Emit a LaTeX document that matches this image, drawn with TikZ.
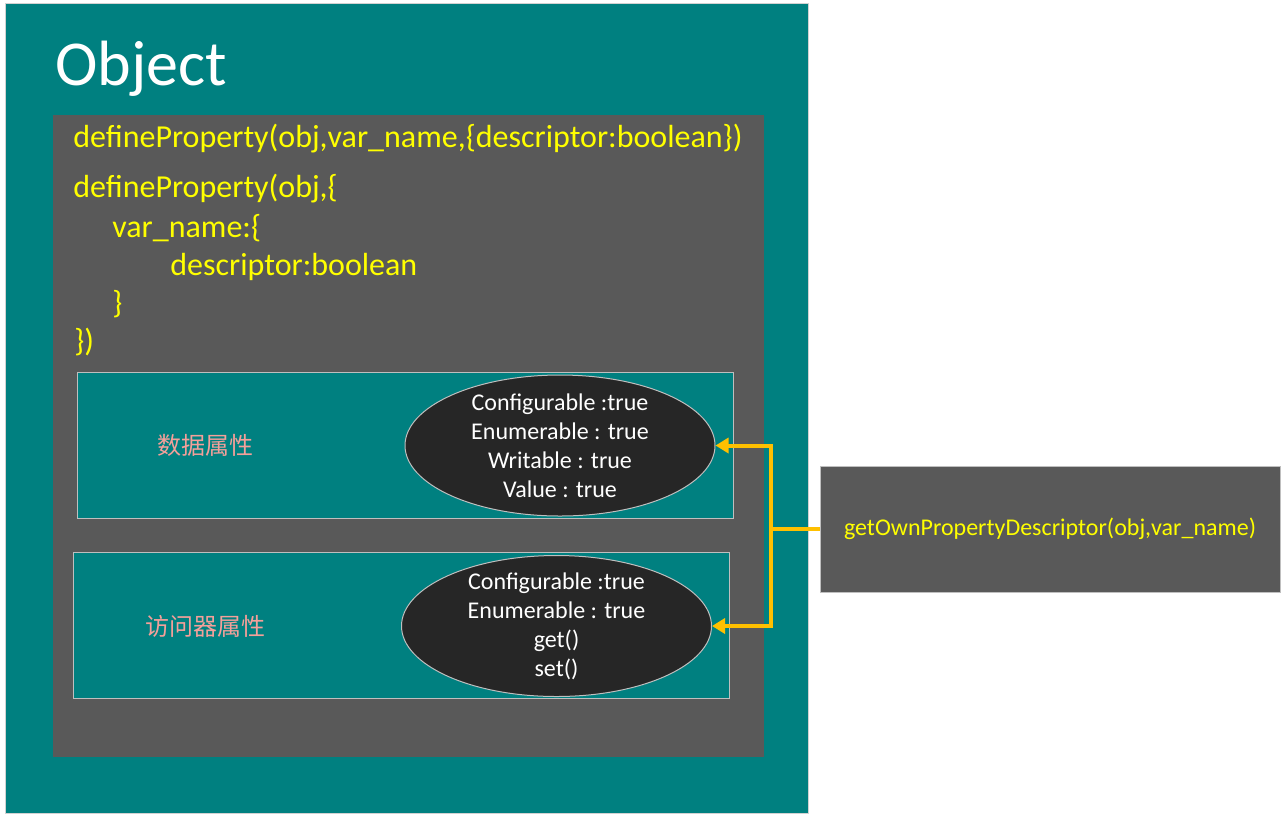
\documentclass[tikz,border=0pt]{standalone}
\usepackage{fontspec}
\setmainfont{Carlito}
\newfontfamily\cjk{Noto Sans CJK SC}
\usepackage{tikz}
\usetikzlibrary{arrows.meta,fit,positioning}
\definecolor{objectfill}{HTML}{008080}
\definecolor{panelfill}{HTML}{595959}
\definecolor{ellipsefill}{HTML}{262626}
\definecolor{framedraw}{HTML}{BFBFBF}
\definecolor{codetext}{HTML}{FFFF00}
\definecolor{kindtext}{HTML}{F4A09A}
\definecolor{linkcolor}{HTML}{FFC000}
\tikzset{
  >=Triangle,
  object box/.style={
    draw=framedraw!70,
    fill=objectfill,
    line width=0.5pt,
    inner sep=0pt
  },
  panel box/.style={
    fill=panelfill,
    inner sep=0pt
  },
  kind box/.style={
    draw=framedraw,
    fill=objectfill,
    line width=0.5pt,
    inner sep=0pt
  },
  getter box/.style={
    draw=framedraw,
    fill=panelfill,
    line width=0.5pt,
    inner sep=0pt
  },
  attr ellipse/.style={
    ellipse,
    draw=framedraw,
    fill=ellipsefill,
    line width=0.5pt,
    inner sep=0pt,
    minimum width=155pt,
    minimum height=70.5pt
  },
  object title/.style={
    font=\fontsize{32}{38}\selectfont,
    text=white,
    inner sep=0pt,
    anchor=base west
  },
  code line/.style={
    font=\fontsize{16}{19}\selectfont,
    text=codetext,
    inner sep=0pt,
    anchor=base west
  },
  attr text/.style={
    font=\fontsize{12}{14.5}\selectfont,
    text=white,
    align=center,
    inner sep=0pt
  },
  kind label/.style={
    font=\cjk\fontsize{12}{14}\selectfont,
    text=kindtext,
    inner sep=0pt
  },
  getter text/.style={
    font=\fontsize{12}{14}\selectfont,
    text=codetext,
    inner sep=0pt
  },
  link/.style={
    draw=linkcolor,
    line width=2pt
  }
}
\usetikzlibrary{shapes.geometric}

\begin{document}
\begin{tikzpicture}[x=0.5pt,y=-0.5pt]
  \useasboundingbox[fill=white] (0,0) rectangle (1286,821);

  \node[object box,fit={(5,3) (808,813)}] (object) {};
  \node[object title] (objecttitle) at (55,85) {Object};

  \node[panel box,fit={(53,115) (764,757)}] (panel) {};
  \node[code line] (code-1) at (73,147) {defineProperty(obj,var\_name,\{descriptor:boolean\})};
  \node[code line] (code-2) at (73,197) {defineProperty(obj,\{};
  \node[code line] (code-3) at (112,237) {var\_name:\{};
  \node[code line] (code-4) at (170,275) {descriptor:boolean};
  \node[code line] (code-5) at (112,313) {\}};
  \node[code line] (code-6) at (74,351) {\})};

  % data property
  \node[kind box,fit={(77,372) (733,518)}] (databox) {};
  \node[kind label] (datalabel) at (205,445) {数据属性};
  \node[attr ellipse] (dataell) at (560,445.5) {};
  \node[attr text] (datatext) at (dataell.center)
    {Configurable :true\\Enumerable : true\\Writable : true\\Value : true};

  % accessor property
  \node[kind box,fit={(73,552) (729,698)}] (accbox) {};
  \node[kind label] (acclabel) at (205,626) {访问器属性};
  \node[attr ellipse] (accell) at (556.5,626) {};
  \node[attr text] (acctext) at (accell.center)
    {Configurable :true\\Enumerable : true\\get()\\set()};

  \node[getter box,fit={(820,466) (1280,592)}] (getter) {};
  \node[getter text] (gettertext) at (getter.center) {getOwnPropertyDescriptor(obj,var\_name)};

  \coordinate (fork) at ([xshift=-24.5pt]getter.west);
  \draw[link] (getter.west) -- (fork);
  \draw[link,-{Triangle[length=6.5pt,width=7.5pt]}] (fork) |- (dataell.east);
  \draw[link,-{Triangle[length=6.5pt,width=7.5pt]}] (fork) |- (accell.east);
\end{tikzpicture}
\end{document}
